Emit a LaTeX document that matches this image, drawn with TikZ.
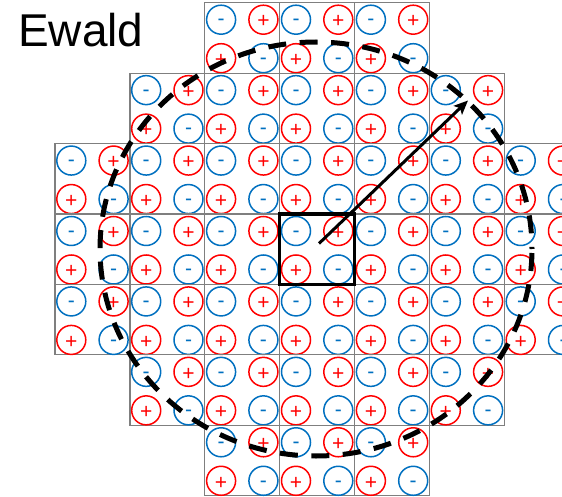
\documentclass[tikz,border=0pt]{standalone}
\usepackage{fontspec}
\setmainfont{Liberation Sans}
\usetikzlibrary{arrows.meta}
\definecolor{ionblue}{HTML}{0070C0}
\definecolor{ionred}{HTML}{FF0000}
\definecolor{gridgray}{HTML}{7F7F7F}
\tikzset{
  cellbox/.style={draw=gridgray, line width=1.2pt},
  ion/.style={circle, draw, line width=1.5pt, minimum size=29pt, inner sep=0pt,
    font=\fontsize{21}{24}\selectfont},
  posion/.style={ion, draw=ionred, text=ionred, text height=16.5pt, text depth=0pt},
  negion/.style={ion, draw=ionblue, text=ionblue, text height=12.5pt, text depth=0pt},
  unitcell/.style={draw=black, line width=3.5pt, minimum width=74.9pt, minimum height=70.4pt, inner sep=0pt},
  ewaldsphere/.style={draw=black, line width=5pt, dash pattern=on 18pt off 13.5pt, dash phase=27.5pt},
  kvector/.style={draw=black, line width=3pt, -{Stealth[length=14pt,width=12pt,inset=3pt]}}
}
\begin{document}
\begin{tikzpicture}[x=1pt,y=-1pt]
\useasboundingbox (0,0) rectangle (562,497);
\clip (0,0) rectangle (562,497);
\fill[white] (0,0) rectangle (562,497);
\node[anchor=base west, inner sep=0pt, font=\fontsize{46}{52}\selectfont] (title) at (18,46.7) {Ewald};
\foreach \r/\cmin/\cmax in {0/2/4,1/1/5,2/0/6,3/0/6,4/0/6,5/1/5,6/2/4} {
  \foreach \c in {\cmin,...,\cmax} {
    \pgfmathsetmacro\xa{55+\c*74.9}
    \pgfmathsetmacro\ya{2.7+\r*70.43}
    \draw[cellbox] (\xa,\ya) rectangle ++(74.9,70.43);
    \node[negion] (m-\r-\c-a) at (\xa+16.3,\ya+17) {-};
    \node[posion] (p-\r-\c-a) at (\xa+58.6,\ya+17) {+};
    \node[posion] (p-\r-\c-b) at (\xa+16.3,\ya+55.5) {+};
    \node[negion] (m-\r-\c-b) at (\xa+58.6,\ya+55.5) {-};
  }
}
\node[unitcell] (cell) at (317.15,249.2) {};
\draw[ewaldsphere] (316,249) ellipse [x radius=216, y radius=207];
\coordinate (origin) at (319,243.5);
\coordinate (ktip) at (468,100.5);
\draw[kvector] (origin) -- (ktip);
\end{tikzpicture}
\end{document}
